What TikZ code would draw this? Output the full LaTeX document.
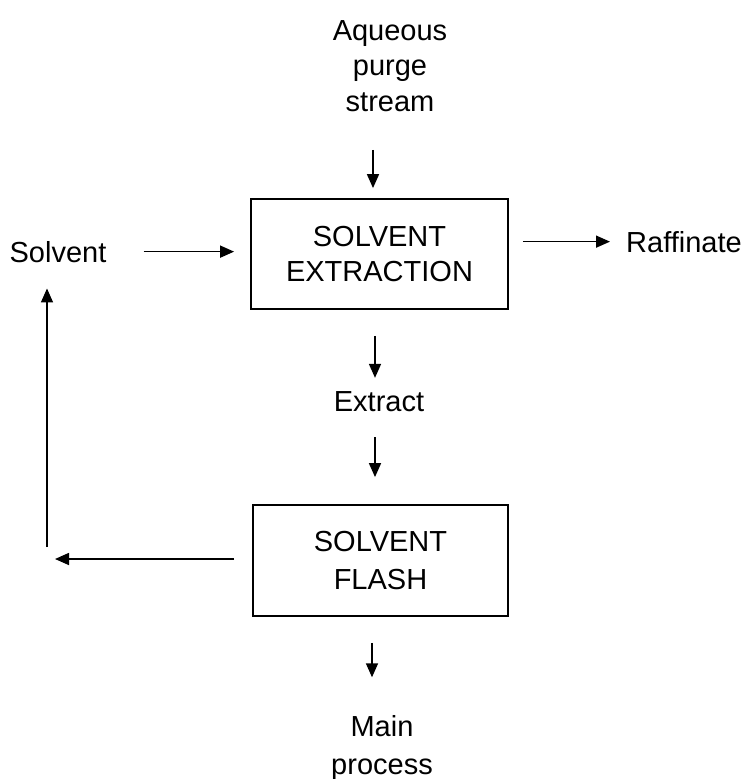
\documentclass[tikz,border=0pt]{standalone}
\usepackage{fontspec}
\setmainfont{Liberation Sans}
\usetikzlibrary{arrows.meta}
\begin{document}
\begin{tikzpicture}[x=1pt,y=-1pt,
  every node/.style={inner sep=0pt, font=\fontsize{29}{35.5}\selectfont},
  unit/.style={draw, line width=1.8pt, align=center},
  tall/.style={font=\fontsize{29}{38}\selectfont},
  flow/.style={-{Triangle[length=14pt,width=12pt]}, line width=1.6pt}]
\useasboundingbox (0,0) rectangle (749,779);
\fill[white] (0,0) rectangle (749,779);

% streams and units
\node[align=center] (aq) at (390,66) {Aqueous\\purge\\stream};
\node[unit, minimum width=257pt, minimum height=110pt] (ext) at (379.5,254) {SOLVENT\\EXTRACTION};
\node[anchor=base] (solv) at (58,262) {Solvent};
\node[anchor=base west] (raf) at (626,252) {Raffinate};
\node[anchor=base] (extr) at (379,411) {Extract};
\node[unit, tall, minimum width=255pt, minimum height=111pt] (fl) at (380.5,560.5) {SOLVENT\\FLASH};
\node[align=center, tall] (mp) at (382,748) {Main\\process};

% vertical flows
\draw[flow, shorten <=38pt, shorten >=10pt] (aq.south -| 373,0) -- (ext.north -| 373,0);
\draw[flow, shorten <=26pt, shorten >=13pt] (ext.south -| 375,0) -- (extr.north -| 375,0);
\draw[flow, shorten <=26pt, shorten >=27pt] (extr.south -| 375,0) -- (fl.north -| 375,0);
\draw[flow, shorten <=26pt, shorten >=38pt] (fl.south -| 372,0) -- (mp.north -| 372,0);

% horizontal flows
\draw[flow, shorten <=37pt, shorten >=16pt] (solv.east) -- (ext.west |- solv.east);
\draw[flow, shorten <=14pt, shorten >=16pt] (ext.east |- raf.west) -- (raf.west);

% solvent recycle
\coordinate (bend) at (47,559);
\draw[flow, shorten <=18pt, shorten >=8pt] (fl.west |- bend) -- (bend);
\draw[flow, shorten <=12pt, shorten >=26pt] (bend) -- (solv.south -| bend);
\end{tikzpicture}
\end{document}
